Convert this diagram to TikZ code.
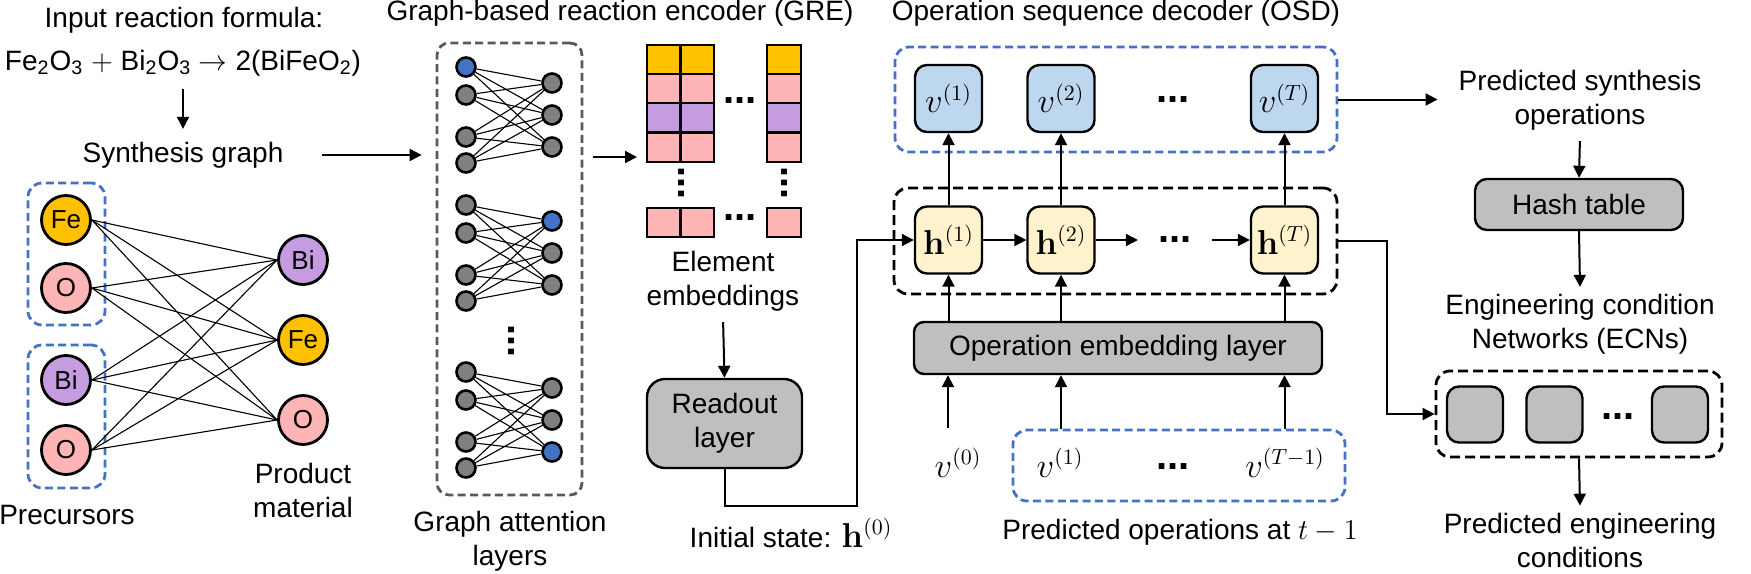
\documentclass[tikz,border=0pt]{standalone}
\usepackage[no-math]{fontspec}
\setmainfont{Liberation Sans}
\usepackage{amsmath}
\usetikzlibrary{arrows.meta}
\definecolor{fecol}{HTML}{FFC000}
\definecolor{ocol}{HTML}{FFB5B5}
\definecolor{bicol}{HTML}{C59CE0}
\definecolor{gatgray}{HTML}{808080}
\definecolor{gatblue}{HTML}{4472C4}
\definecolor{dashblue}{HTML}{4472C4}
\definecolor{framegray}{HTML}{595959}
\definecolor{boxgray}{HTML}{BFBFBF}
\definecolor{vfill}{HTML}{BDD7EE}
\definecolor{hfill}{HTML}{FFF2CC}

\begin{document}
\begin{tikzpicture}[x=0.5pt, y=-0.5pt, font=\fontsize{14}{17}\selectfont,
  arr/.style={-{Triangle[length=6pt,width=6pt]}, line width=1pt},
  atom/.style={circle, draw, line width=1.4pt, minimum size=24.5pt, inner sep=0pt, font=\fontsize{13}{15}\selectfont},
  gnode/.style={circle, draw, line width=1.3pt, fill=gatgray, minimum size=9.5pt, inner sep=0pt},
  link/.style={line width=0.55pt},
  bluedash/.style={draw=dashblue, line width=1.4pt, dash pattern=on 4pt off 2.2pt, rounded corners=7pt},
  blackdash/.style={draw=black, line width=1.4pt, dash pattern=on 5pt off 2.5pt, rounded corners=7pt},
  greydash/.style={draw=framegray, line width=1.4pt, dash pattern=on 4pt off 2.2pt, rounded corners=6pt},
  cell/.style={draw, line width=1.1pt},
  mathf/.style={font=\fontsize{16}{19}\selectfont},
  vbox/.style={draw, line width=1.2pt, rounded corners=6pt, fill=vfill, minimum size=33.5pt, inner sep=0pt, mathf},
  hbox/.style={draw, line width=1.2pt, rounded corners=6pt, fill=hfill, minimum size=33.5pt, inner sep=0pt, mathf},
  graybox/.style={draw, line width=1.2pt, fill=boxgray, rounded corners=6pt},
  dots/.style={font=\fontsize{20}{20}\selectfont\bfseries, inner sep=0pt},
  hl-l11/.style={fill=gatblue}, hl-r21/.style={fill=gatblue}, hl-r33/.style={fill=gatblue}]
  \useasboundingbox (0,0) rectangle (1751,573);

  \node (inptitle) at (184,20) {Input reaction formula:};
  \node (formula) at (183,63) {Fe\textsubscript{2}O\textsubscript{3} $+$ Bi\textsubscript{2}O\textsubscript{3} $\rightarrow$ 2(BiFeO\textsubscript{2})};
  \node (synth) at (183,155) {Synthesis graph};
  \draw[arr, shorten <=3pt, shorten >=3pt] (formula.south) -- (synth.north);

  \node[bluedash, minimum width=38.5pt, minimum height=71pt] (pf1) at (66.5,254) {};
  \node[bluedash, minimum width=38.5pt, minimum height=71.5pt] (pf2) at (66.5,416.5) {};
  \node[atom, fill=fecol] (p1) at (66,220) {Fe};
  \node[atom, fill=ocol] (p2) at (66,288) {O};
  \node[atom, fill=bicol] (p3) at (66,380) {Bi};
  \node[atom, fill=ocol] (p4) at (66,450) {O};
  \node[atom, fill=bicol] (q1) at (303,260) {Bi};
  \node[atom, fill=fecol] (q2) at (303,340) {Fe};
  \node[atom, fill=ocol] (q3) at (303,420) {O};
  \foreach \i in {1,...,4}
    \foreach \j in {1,2,3}
      \draw[link] (p\i.east) -- (q\j.west);
  \node (prec) at (67,515) {Precursors};
  \node[align=center] (prod) at (303,490) {Product\\material};

  \node (gretitle) at (620,13) {Graph-based reaction encoder (GRE)};
  \node[greydash, minimum width=72.5pt, minimum height=226pt] (gat) at (509.5,269) {};
  \draw[arr, shorten <=16pt, shorten >=7pt] (synth.east) -- (synth.east -| gat.west);
  \foreach \g/\dy in {1/0, 2/138, 3/305} {
    \foreach \i/\y in {1/67, 2/95, 3/137, 4/163}
      \node[gnode, hl-l\g\i/.try] (l\g\i) at (466,\y+\dy) {};
    \foreach \j/\y in {1/83, 2/115, 3/147}
      \node[gnode, hl-r\g\j/.try] (r\g\j) at (552,\y+\dy) {};
    \foreach \i in {1,...,4}
      \foreach \j in {1,2,3}
        \draw[link] (l\g\i) -- (r\g\j);
  }
  \node[dots, rotate=90] (gatdots) at (512,341) {...};
  \node[align=center] (gatlab) at (510,541) {Graph attention\\layers};

  \foreach \c/\y in {fecol/45, ocol/74, bicol/103, ocol/133} {
    \draw[cell, fill=\c] (647,\y) rectangle ++(33.5,29);
    \draw[cell, fill=\c] (680.5,\y) rectangle ++(33.5,29);
    \draw[cell, fill=\c] (767,\y) rectangle ++(34,29);
  }
  \draw[cell, fill=ocol] (647,208) rectangle ++(33.5,29);
  \draw[cell, fill=ocol] (680.5,208) rectangle ++(33.5,29);
  \draw[cell, fill=ocol] (767,208) rectangle ++(34,29);
  \node[dots] (embdots1) at (740,101) {...};
  \node[dots] (embdots2) at (740,218) {...};
  \node[dots, rotate=90] (embdots3) at (682,183) {...};
  \node[dots, rotate=90] (embdots4) at (785,183) {...};
  \coordinate (emb) at (647,157);
  \draw[arr, shorten <=5pt, shorten >=5pt] (gat.east |- emb) -- (emb);
  \node[align=center] (elem) at (723,281) {Element\\embeddings};
  \node[graybox, rounded corners=9pt, minimum width=77.5pt, minimum height=44.5pt, align=center] (readout) at (724.5,423.5) {Readout\\layer};
  \draw[arr, shorten <=2pt] (elem.south) -- (readout.north);

  \node (osdtitle) at (1116,13) {Operation sequence decoder (OSD)};
  \node[bluedash, minimum width=221pt, minimum height=52.5pt] (vframe) at (1116,99.5) {};
  \node[blackdash, minimum width=221.5pt, minimum height=53pt] (hframe) at (1115.5,241) {};
  \node[graybox, rounded corners=5pt, minimum width=204pt, minimum height=26pt] (opemb) at (1118,348) {Operation embedding layer};
  \foreach \n/\x/\s in {1/948.5/1, 2/1061/2, T/1284.5/T} {
    \node[vbox] (v\n) at (\x,98.5) {$v^{(\s)}$};
    \node[hbox] (h\n) at (\x,240) {$\mathbf{h}^{(\s)}$};
    \draw[arr] (h\n.north) -- (v\n.south);
    \draw[arr] (opemb.north -| h\n) -- (h\n.south);
  }
  \node[dots] (vdots) at (1173,100) {...};
  \node[dots] (hdots) at (1175,240) {...};
  \draw[arr] (h1) -- (h2);
  \draw[arr] (h2.east) -- ([xshift=-10pt]hdots.west);
  \draw[arr] ([xshift=10pt]hdots.east) -- (hT.west);
  \draw[arr] (readout.south) -- ++(0,37) -| ([xshift=-28.5pt]h1.west) -- (h1.west);
  \node (init) at (791,533) {Initial state: {\fontsize{16}{19}\selectfont$\mathbf{h}^{(0)}$}};

  \node[bluedash, minimum width=166pt, minimum height=35.5pt] (vprev) at (1179,465.5) {};
  \node[mathf] (v0) at (958,463) {$v^{(0)}$};
  \node[mathf] (vp1) at (1060,463) {$v^{(1)}$};
  \node[dots] (vpdots) at (1173,467) {...};
  \node[mathf] (vpT) at (1285,463) {$v^{(T-1)}$};
  \coordinate (v0in) at (948,428);
  \draw[arr] (v0in) -- (opemb.south -| v0in);
  \draw[arr] (vprev.north -| h2) -- (opemb.south -| h2);
  \draw[arr] (vprev.north -| hT) -- (opemb.south -| hT);
  \node (predops) at (1180,532) {Predicted operations at $t-1$};

  \node[align=center] (predsyn) at (1580,100) {Predicted synthesis\\operations};
  \draw[arr, shorten >=7pt] (vframe.east) -- (vframe.east -| predsyn.west);
  \node[graybox, minimum width=104pt, minimum height=25.5pt] (hash) at (1579,204.5) {Hash table};
  \draw[arr, shorten <=2pt] (predsyn.south) -- (hash.north);
  \node[align=center] (ecnlab) at (1580,324) {Engineering condition\\Networks (ECNs)};
  \draw[arr] (hash.south) -- (ecnlab.north);
  \node[blackdash, minimum width=143pt, minimum height=43pt] (ecn) at (1579,414) {};
  \foreach \n/\x in {1/1475, 2/1554.5, 3/1680}
    \node[graybox, minimum size=28pt] (ecn\n) at (\x,414.5) {};
  \node[dots] (ecndots) at (1618,417) {...};
  \draw[arr] (hframe.east) -- ++(49,0) |- (ecn.west);
  \node[align=center] (predeng) at (1580,540) {Predicted engineering\\conditions};
  \draw[arr] (ecn.south) -- (predeng.north);
\end{tikzpicture}
\end{document}
